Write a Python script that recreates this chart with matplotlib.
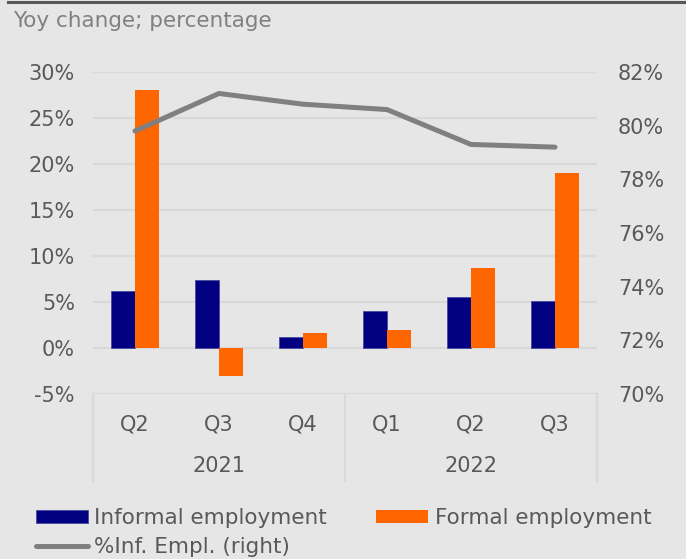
import numpy as np
import matplotlib.pyplot as plt
import matplotlib.transforms as mtransforms
from matplotlib.lines import Line2D
from matplotlib.ticker import FuncFormatter

quarters = ['Q2', 'Q3', 'Q4', 'Q1', 'Q2', 'Q3']
years = ['2021', '2022']
year_spans = [(0, 2), (3, 5)]
informal = [6.2, 7.4, 1.2, 4.0, 5.5, 5.1]
formal = [28.0, -3.0, 1.6, 2.0, 8.7, 19.0]
inf_share = [79.8, 81.2, 80.8, 80.6, 79.3, 79.2]

bg = '#e6e6e6'
txt = '#595959'
grid_c = '#d9d9d9'

plt.rcParams['font.family'] = 'DejaVu Sans'
fig = plt.figure(figsize=(6.86, 5.59), dpi=100, facecolor=bg)
ax = fig.add_axes([93 / 686, 1 - 394 / 559, 504 / 686, 322 / 559])
ax.set_facecolor(bg)

x = np.arange(len(quarters))
w = 0.285
b1 = ax.bar(x - w / 2, informal, w, color='#000080', edgecolor='#4a4aa0',
            linewidth=0.6, zorder=3, label='Informal employment')
b2 = ax.bar(x + w / 2, formal, w, color='#ff6600', zorder=3,
            label='Formal employment')

ax.set_xlim(-0.5, 5.5)
ax.set_ylim(-5, 30)
ax.set_yticks(np.arange(-5, 31, 5))
ax.yaxis.set_major_formatter(FuncFormatter(lambda v, p: f'{v:.0f}%'))
ax.grid(axis='y', color=grid_c, lw=1.6)
ax.set_axisbelow(True)
for s in ax.spines.values():
    s.set_visible(False)
ax.tick_params(axis='both', length=0, labelsize=15, labelcolor=txt)
ax.tick_params(axis='y', pad=13)
ax.set_xticks(x, quarters)
ax.tick_params(axis='x', pad=15)

# two-level category axis: year labels and separators
trans = mtransforms.blended_transform_factory(ax.transData, ax.transAxes)
for xv in [-0.5, 2.5, 5.5]:
    ax.plot([xv, xv], [0, -0.27], transform=trans, color=grid_c, lw=1.6,
            clip_on=False)
for yr, (a, b) in zip(years, year_spans):
    ax.text((a + b) / 2, -0.225, yr, transform=trans, ha='center',
            va='center', fontsize=15, color=txt)

ax2 = ax.twinx()
ln, = ax2.plot(x, inf_share, color='#808080', lw=3.6, solid_capstyle='round',
               label='%Inf. Empl. (right)')
ax2.set_ylim(70, 82)
ax2.set_yticks(np.arange(70, 83, 2))
ax2.yaxis.set_major_formatter(FuncFormatter(lambda v, p: f'{v:.0f}%'))
for s in ax2.spines.values():
    s.set_visible(False)
ax2.tick_params(axis='y', length=0, labelsize=15, labelcolor=txt, pad=15)

fig.text(13 / 686, 1 - 21 / 559, 'Yoy change; percentage', fontsize=15.5,
         color='#808080', va='center')
fig.add_artist(Line2D([8 / 686, 1], [1 - 1.5 / 559] * 2, color='#595959', lw=2.2))

fig.legend(handles=[b1, ln, b2], loc='upper left',
           bbox_to_anchor=(36 / 686, 1 - 508 / 559), ncol=2, frameon=False,
           fontsize=15.5, labelcolor=txt, handlelength=2.4, handleheight=0.55,
           handletextpad=0.3, columnspacing=2.3, labelspacing=0.42,
           borderpad=0, borderaxespad=0)

fig.savefig('out.png', dpi=100, facecolor=bg)
